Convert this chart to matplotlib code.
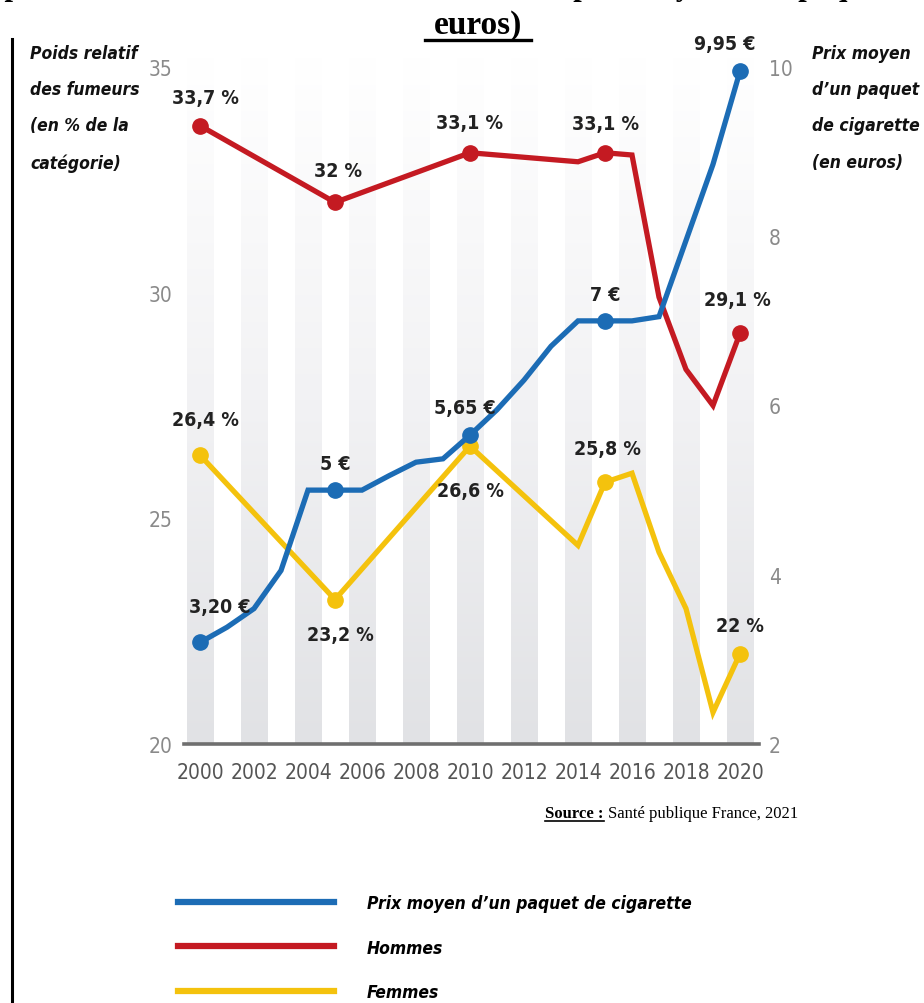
import numpy as np
import matplotlib
matplotlib.use("Agg")
import matplotlib.pyplot as plt
from matplotlib import font_manager as fm
from matplotlib.lines import Line2D
from matplotlib.colors import LinearSegmentedColormap

# ---------------- data ----------------
years_prix = [2000, 2001, 2002, 2003, 2004, 2005, 2006, 2007, 2008, 2009, 2010,
              2011, 2012, 2013, 2014, 2015, 2016, 2017, 2018, 2019, 2020]
prix = [3.20, 3.38, 3.60, 4.05, 5.00, 5.00, 5.00, 5.17, 5.33, 5.37, 5.65,
        5.95, 6.30, 6.70, 7.00, 7.00, 7.00, 7.05, 7.95, 8.85, 9.95]

years_sexe = [2000, 2005, 2010, 2014, 2015, 2016, 2017, 2018, 2019, 2020]
hommes = [33.7, 32.0, 33.1, 32.9, 33.1, 33.05, 29.9, 28.3, 27.5, 29.1]
femmes = [26.4, 23.2, 26.6, 24.4, 25.8, 26.0, 24.25, 23.0, 20.7, 22.0]

marker_years = [2000, 2005, 2010, 2015, 2020]
prix_labels = ["3,20 €", "5 €", "5,65 €", "7 €", "9,95 €"]
hommes_labels = ["33,7 %", "32 %", "33,1 %", "33,1 %", "29,1 %"]
femmes_labels = ["26,4 %", "23,2 %", "26,6 %", "25,8 %", "22 %"]

xticks = list(range(2000, 2021, 2))
left_ticks = [20, 25, 30, 35]
right_ticks = [2, 4, 6, 8, 10]

legend_labels = ["Prix moyen d’un paquet de cigarette", "Hommes", "Femmes"]
left_title = "Poids relatif\ndes fumeurs\n(en % de la\ncatégorie)"
right_title = "Prix moyen\nd’un paquet\nde cigarette\n(en euros)"

BLUE = "#1c6cb5"
RED = "#c41a22"
YELLOW = "#f4c20d"

# ---------------- fonts ----------------
names = {f.name for f in fm.fontManager.ttflist}
cond = [f for f in fm.fontManager.ttflist
        if f.stretch in ("condensed", "semi-condensed", "extra-condensed") or
        "Condensed" in f.name or "Narrow" in f.name]
if "Liberation Sans Narrow" in names:
    NARROW, STRETCH = "Liberation Sans Narrow", "normal"
elif cond:
    NARROW, STRETCH = cond[0].name, "condensed"
else:
    NARROW, STRETCH = "DejaVu Sans", "condensed"
SERIF = "Liberation Serif" if "Liberation Serif" in names else "DejaVu Serif"

W, H = 924, 1004
fig = plt.figure(figsize=(W / 100, H / 100), dpi=100)

def fx(px):
    return px / W

def fy(py):
    return 1 - py / H

# axes geometry (pixels)
x0, x1 = 1999.4, 2020.7
px_per_year = 27.0
ax_left = 200 - (2000 - x0) * px_per_year
ax_right = 740 + (x1 - 2020) * px_per_year
ylo, yhi = 20, 36
px_per_unit = (745 - 68) / 15.0
ax_top = 745 - (yhi - ylo) * px_per_unit
ax_bottom = 745

ax = fig.add_axes([fx(ax_left), fy(ax_bottom), (ax_right - ax_left) / W, (ax_bottom - ax_top) / H])
ax.set_xlim(x0, x1)
ax.set_ylim(ylo, yhi)
ax2 = ax.twinx()
r_lo = 2
r_hi = 2 + (yhi - ylo) * 8 / 15
ax2.set_ylim(r_lo, r_hi)

# gradient background bars at even years (darker at the bottom)
cmap = LinearSegmentedColormap.from_list("g", ["#ffffff", "#f2f2f4", "#e1e2e5"])
grad = np.linspace(1, 0, 256).reshape(-1, 1)
for yr in xticks:
    ax.imshow(grad, extent=[yr - 0.5, yr + 0.5, ylo, yhi - 0.8], origin="lower",
              cmap=cmap, aspect="auto", zorder=0, interpolation="bilinear")
ax.set_xlim(x0, x1)
ax.set_ylim(ylo, yhi)

# lines
mk_sexe = [years_sexe.index(y) for y in marker_years]
mk_prix = [years_prix.index(y) for y in marker_years]
ax.plot(years_sexe, hommes, color=RED, lw=3.8, marker="o", ms=11, markevery=mk_sexe,
        solid_joinstyle="miter", zorder=3)
ax.plot(years_sexe, femmes, color=YELLOW, lw=3.8, marker="o", ms=11, markevery=mk_sexe,
        solid_joinstyle="miter", zorder=3)
ax2.plot(years_prix, prix, color=BLUE, lw=3.8, marker="o", ms=11, markevery=mk_prix,
         solid_joinstyle="miter", zorder=3)

# value labels
lab_kw = dict(textcoords="offset points", ha="center", va="center", fontsize=14,
              fontweight="bold", color="#222222", family=NARROW, fontstretch=STRETCH, zorder=5)
prix_off = [(14, 26), (0, 19), (-4, 20), (0, 19), (-11, 20)]
hom_off = [(4, 20), (2, 23), (0, 22), (0, 21), (-2, 24)]
fem_off = [(4, 26), (4, -25), (0, -32), (2, 24), (0, 20)]
for i, y in enumerate(marker_years):
    ax2.annotate(prix_labels[i], (y, prix[mk_prix[i]]), xytext=prix_off[i], **lab_kw)
    ax.annotate(hommes_labels[i], (y, hommes[mk_sexe[i]]), xytext=hom_off[i], **lab_kw)
    ax.annotate(femmes_labels[i], (y, femmes[mk_sexe[i]]), xytext=fem_off[i], **lab_kw)

# axes styling
for a in (ax, ax2):
    for s in ("top", "left", "right", "bottom"):
        a.spines[s].set_visible(False)
ax.axhline(ylo, color="#6f6f6f", lw=2.6, zorder=4, clip_on=False)
ax.set_xticks(xticks)
ax.set_xticklabels([str(t) for t in xticks])
ax.set_yticks(left_ticks)
ax2.set_yticks(right_ticks)
ax.tick_params(axis="x", length=0, pad=13, labelsize=15, labelcolor="#555555")
ax.tick_params(axis="y", length=0, pad=8, labelsize=15, labelcolor="#8a8a8a")
ax2.tick_params(axis="y", length=0, pad=7, labelsize=15, labelcolor="#8a8a8a")
for lab in ax.get_xticklabels() + ax.get_yticklabels() + ax2.get_yticklabels():
    lab.set_family(NARROW)
    lab.set_fontstretch(STRETCH)

# side titles
side_kw = dict(fontsize=12.5, fontweight="bold", style="italic", family=NARROW,
               fontstretch=STRETCH, color="#111111", va="top", linespacing=2.3)
fig.text(fx(30), fy(45), left_title, ha="left", **side_kw)
fig.text(fx(812), fy(45), right_title, ha="left", **side_kw)

# title fragments (top of a document)
fig.text(0.5, fy(-5), "Évolution du poids relatif des fumeurs selon le sexe et du prix moyen d’un paquet de cigarette (en",
         ha="center", va="baseline", fontsize=22, fontweight="bold", family=SERIF)
fig.text(fx(478), fy(34), "euros)", ha="center", va="baseline", fontsize=24,
         fontweight="bold", family=SERIF)
fig.add_artist(Line2D([fx(425), fx(531)], [fy(41), fy(41)], color="black", lw=2.4))

# document left rule
fig.add_artist(Line2D([fx(12), fx(12)], [fy(40), fy(1004)], color="black", lw=2.2))

# source
src1 = fig.text(fx(545), fy(818), "Source :", ha="left", va="baseline", fontsize=12,
                fontweight="bold", family=SERIF)
src2 = fig.text(fx(545), fy(818), "Santé publique France, 2021", ha="left", va="baseline",
                fontsize=12, family=SERIF)
fig.canvas.draw()
r = fig.canvas.get_renderer()
bb = src1.get_window_extent(r)
src2.set_x((bb.x1 + 4) / W)
fig.add_artist(Line2D([bb.x0 / W, bb.x1 / W], [fy(822), fy(822)], color="black", lw=1.2))

# legend
handles = [Line2D([], [], color=c, lw=4.5) for c in (BLUE, RED, YELLOW)]
leg = fig.legend(handles, legend_labels, loc="upper left",
                 bbox_to_anchor=(fx(162), fy(879)), frameon=False,
                 handlelength=9.0, handletextpad=1.9, labelspacing=1.55,
                 prop=dict(family=NARROW, size=12.5, weight="bold", style="italic",
                           stretch=STRETCH))

fig.savefig("out.png", dpi=100)
